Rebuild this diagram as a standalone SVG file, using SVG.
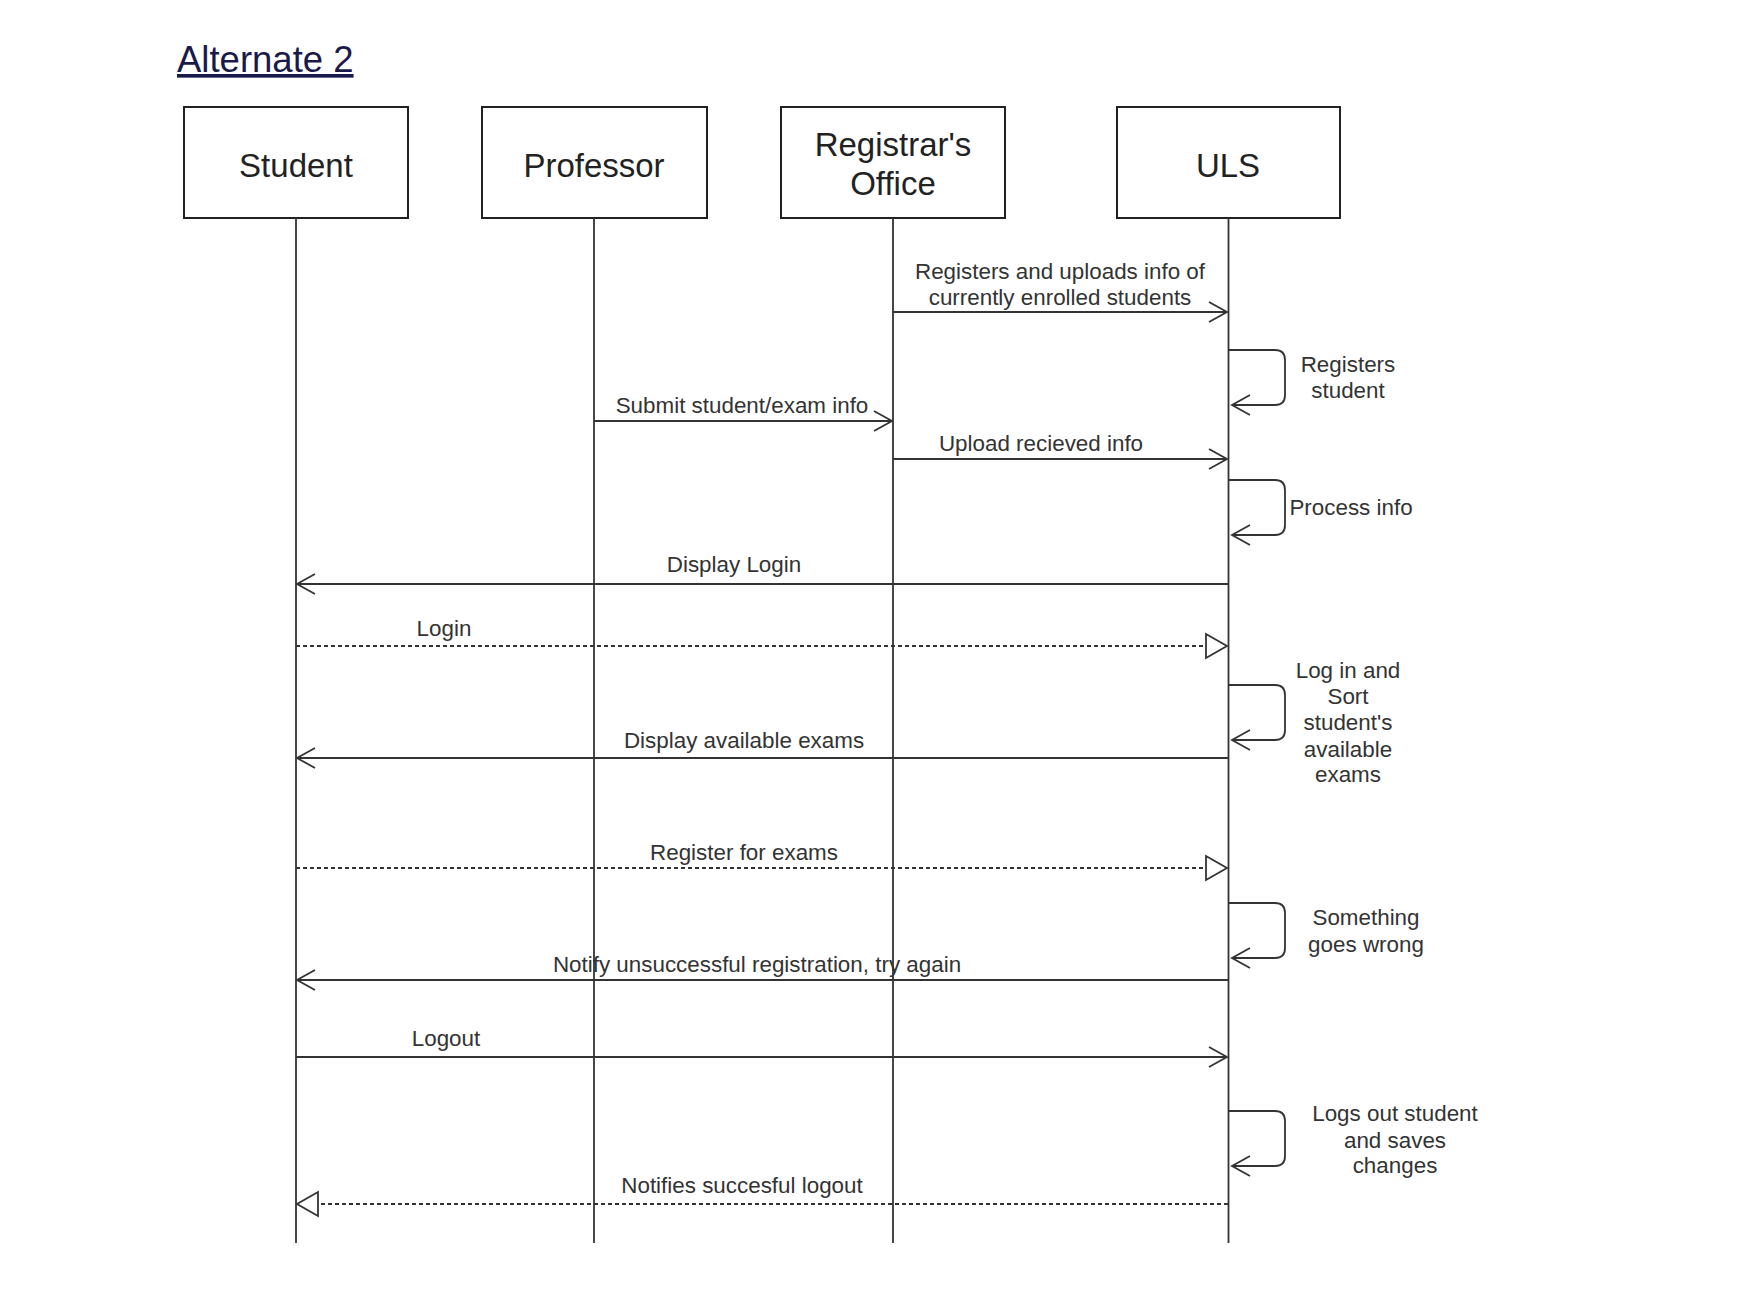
<svg xmlns="http://www.w3.org/2000/svg" width="1737" height="1301" viewBox="0 0 1737 1301">
<style>
.box{fill:#fff;stroke:#222;stroke-width:2}
.actor{font-family:"Liberation Sans",Arial,sans-serif;font-size:33px;fill:#222;text-anchor:middle}
.life{stroke:#333;stroke-width:1.8;fill:none}
.msg{stroke:#333;stroke-width:1.8;fill:none}
.dash{stroke-dasharray:4 3}
.lbl{font-family:"Liberation Sans",Arial,sans-serif;font-size:22.4px;fill:#333;text-anchor:middle}
</style>
<defs>
<marker id="open" markerWidth="24" markerHeight="24" refX="20" refY="12" orient="auto" markerUnits="userSpaceOnUse" viewBox="0 0 24 24">
<path d="M2,2 L20,12 L2,22" fill="none" stroke="#333" stroke-width="1.8"/>
</marker>
<marker id="tri" markerWidth="26" markerHeight="28" refX="23" refY="14" orient="auto" markerUnits="userSpaceOnUse" viewBox="0 0 26 28">
<path d="M2,2 L23,14 L2,26 Z" fill="#fff" stroke="#333" stroke-width="1.8"/>
</marker>
</defs>
<rect width="1737" height="1301" fill="#fff"/>
<text x="177" y="72" font-family="Liberation Sans,Arial,sans-serif" font-size="36.5" fill="#1a1a4a" text-decoration="underline">Alternate 2</text>
<g id="student"><rect class="box" x="184" y="107" width="224" height="111"/><text class="actor" x="296" y="177">Student</text></g>
<g id="professor"><rect class="box" x="482" y="107" width="225" height="111"/><text class="actor" x="594" y="177">Professor</text></g>
<g id="registrar"><rect class="box" x="781" y="107" width="224" height="111"/><text class="actor" x="893" y="156">Registrar's</text><text class="actor" x="893" y="195">Office</text></g>
<g id="uls"><rect class="box" x="1117" y="107" width="223" height="111"/><text class="actor" x="1228" y="177">ULS</text></g>
<g id="lifelines">
<line class="life" x1="296" y1="218" x2="296" y2="1243"/>
<line class="life" x1="594" y1="218" x2="594" y2="1243"/>
<line class="life" x1="893" y1="218" x2="893" y2="1243"/>
<line class="life" x1="1228.5" y1="218" x2="1228.5" y2="1243"/>
</g>
<g id="connectors">
<line class="msg" x1="893" y1="312" x2="1227" y2="312" marker-end="url(#open)"/>
<path class="msg" d="M1229,350 H1275 Q1285,350 1285,360 V395 Q1285,405 1275,405 H1232" marker-end="url(#open)"/>
<line class="msg" x1="594" y1="421" x2="892" y2="421" marker-end="url(#open)"/>
<line class="msg" x1="893" y1="459" x2="1227" y2="459" marker-end="url(#open)"/>
<path class="msg" d="M1229,480 H1275 Q1285,480 1285,490 V525 Q1285,535 1275,535 H1232" marker-end="url(#open)"/>
<line class="msg" x1="1228" y1="584" x2="297" y2="584" marker-end="url(#open)"/>
<line class="msg dash" x1="296" y1="646" x2="1227" y2="646" marker-end="url(#tri)"/>
<path class="msg" d="M1229,685 H1275 Q1285,685 1285,695 V730 Q1285,740 1275,740 H1232" marker-end="url(#open)"/>
<line class="msg" x1="1228" y1="758" x2="297" y2="758" marker-end="url(#open)"/>
<line class="msg dash" x1="296" y1="868" x2="1227" y2="868" marker-end="url(#tri)"/>
<path class="msg" d="M1229,903 H1275 Q1285,903 1285,913 V948 Q1285,958 1275,958 H1232" marker-end="url(#open)"/>
<line class="msg" x1="1228" y1="980" x2="297" y2="980" marker-end="url(#open)"/>
<line class="msg" x1="296" y1="1057" x2="1227" y2="1057" marker-end="url(#open)"/>
<path class="msg" d="M1229,1111 H1275 Q1285,1111 1285,1121 V1156 Q1285,1166 1275,1166 H1232" marker-end="url(#open)"/>
<line class="msg dash" x1="1228" y1="1204" x2="297" y2="1204" marker-end="url(#tri)"/>
</g>
<g id="labels">
<text class="lbl" x="1060" y="279">Registers and uploads info of</text>
<text class="lbl" x="1060" y="305">currently enrolled students</text>
<text class="lbl" x="1348" y="372">Registers</text>
<text class="lbl" x="1348" y="398">student</text>
<text class="lbl" x="742" y="413">Submit student/exam info</text>
<text class="lbl" x="1041" y="451">Upload recieved info</text>
<text class="lbl" x="1351" y="515">Process info</text>
<text class="lbl" x="734" y="572">Display Login</text>
<text class="lbl" x="444" y="636">Login</text>
<text class="lbl" x="1348" y="678">Log in and</text>
<text class="lbl" x="1348" y="704">Sort</text>
<text class="lbl" x="1348" y="730">student's</text>
<text class="lbl" x="1348" y="757">available</text>
<text class="lbl" x="1348" y="782">exams</text>
<text class="lbl" x="744" y="748">Display available exams</text>
<text class="lbl" x="744" y="860">Register for exams</text>
<text class="lbl" x="1366" y="925">Something</text>
<text class="lbl" x="1366" y="952">goes wrong</text>
<text class="lbl" x="757" y="972">Notify unsuccessful registration, try again</text>
<text class="lbl" x="446" y="1046">Logout</text>
<text class="lbl" x="1395" y="1121">Logs out student</text>
<text class="lbl" x="1395" y="1148">and saves</text>
<text class="lbl" x="1395" y="1173">changes</text>
<text class="lbl" x="742" y="1193">Notifies succesful logout</text>
</g>
</svg>
